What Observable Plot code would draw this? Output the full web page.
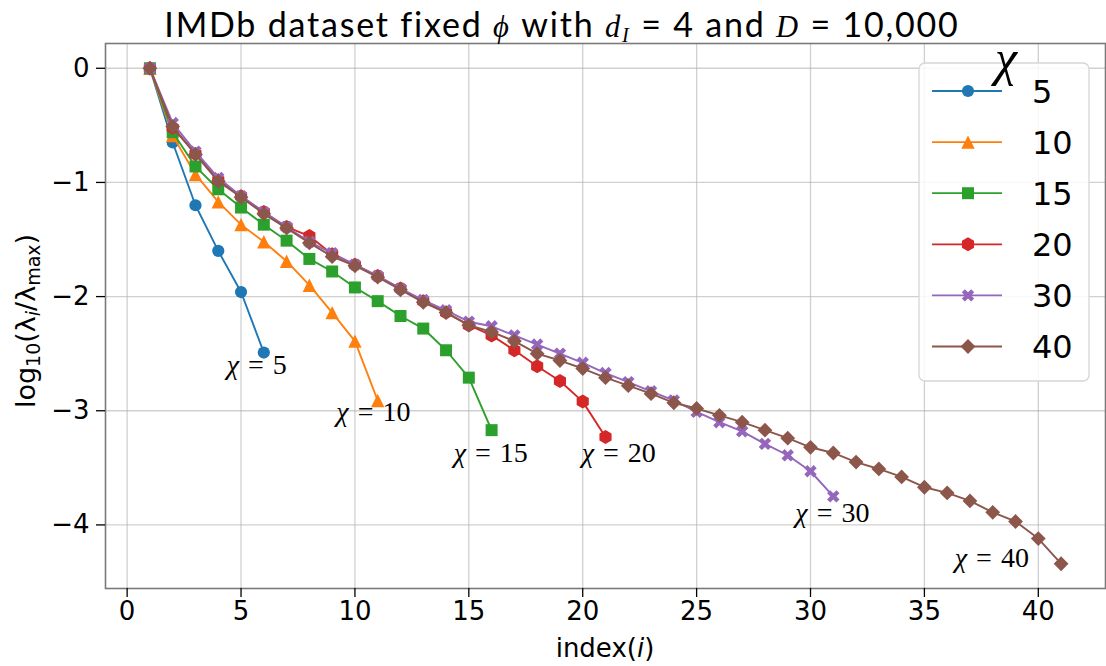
<!DOCTYPE html>
<html><head><meta charset="utf-8">
<script src="https://cdn.jsdelivr.net/npm/d3@7"></script>
<script src="https://cdn.jsdelivr.net/npm/@observablehq/plot@0.6"></script>
<style>body{margin:0;background:#fff;} #chart{width:1106px;height:666px;position:relative;}</style>
</head><body><div id="chart"></div>
<script>
// ---- data ----
const chis = [5, 10, 15, 20, 30, 40];
const colors = ["#1f77b4", "#ff7f0e", "#2ca02c", "#d62728", "#9467bd", "#8c564b"];
const y5 = [0, -0.65, -1.20, -1.60, -1.96, -2.49];
const y10 = [0, -0.59, -0.93, -1.17, -1.37, -1.52, -1.69, -1.90, -2.14, -2.39, -2.91];
const y15 = [0, -0.56, -0.86, -1.06, -1.22, -1.37, -1.51, -1.67, -1.78, -1.92, -2.04, -2.17, -2.28, -2.47, -2.71, -3.17];
const y20 = [0, -0.52, -0.75, -0.98, -1.12, -1.26, -1.39, -1.47, -1.63, -1.72, -1.82, -1.93, -2.04, -2.14, -2.25, -2.34, -2.47, -2.61, -2.74, -2.92, -3.23];
const y30 = [0, -0.48, -0.73, -0.96, -1.12, -1.26, -1.39, -1.52, -1.62, -1.72, -1.82, -1.93, -2.03, -2.12, -2.22, -2.26, -2.34, -2.42, -2.50, -2.58, -2.67, -2.75, -2.83, -2.91, -3.01, -3.10, -3.18, -3.29, -3.39, -3.53, -3.75];
const y40 = [0, -0.51, -0.755, -0.99, -1.13, -1.275, -1.40, -1.53, -1.65, -1.73, -1.83, -1.94, -2.05, -2.14, -2.25, -2.31, -2.39, -2.50, -2.56, -2.63, -2.71, -2.78, -2.85, -2.93, -2.98, -3.04, -3.10, -3.17, -3.24, -3.32, -3.37, -3.45, -3.51, -3.58, -3.67, -3.72, -3.79, -3.89, -3.97, -4.12, -4.34];
const xTicks = [0, 5, 10, 15, 20, 25, 30, 35, 40];
const yTicks = [0, -1, -2, -3, -4];
const annotChi = [5, 10, 15, 20, 30, 40];
const annotX = [5.69, 10.81, 15.96, 21.58, 30.96, 37.96];
const annotY = [-2.60, -3.01, -3.37, -3.37, -3.90, -4.29];

// ---- marker symbols (matplotlib-like) ----
const rOf = s => Math.sqrt(s / Math.PI);
const poly = (ctx, pts) => { pts.forEach(([a, b], k) => k ? ctx.lineTo(a, b) : ctx.moveTo(a, b)); ctx.closePath(); };
const symCircle = {draw(ctx, s) { const r = rOf(s); ctx.moveTo(r, 0); ctx.arc(0, 0, r, 0, 2 * Math.PI); ctx.closePath(); }};
const symTriangle = {draw(ctx, s) { const r = rOf(s); poly(ctx, [[0, -r], [r, r], [-r, r]]); }};
const symSquare = {draw(ctx, s) { const r = rOf(s); poly(ctx, [[-r, -r], [r, -r], [r, r], [-r, r]]); }};
const symHex = {draw(ctx, s) { const r = rOf(s); const p = []; for (let k = 0; k < 6; k++) { const a = -Math.PI / 2 + k * Math.PI / 3; p.push([r * Math.cos(a), r * Math.sin(a)]); } poly(ctx, p); }};
const symX = {draw(ctx, s) { const r = rOf(s), w = r / 3; const p = [[-w,-r],[w,-r],[w,-w],[r,-w],[r,w],[w,w],[w,r],[-w,r],[-w,w],[-r,w],[-r,-w],[-w,-w]].map(([a, b]) => [(a - b) / Math.SQRT2, (a + b) / Math.SQRT2]); poly(ctx, p); }};
const symDiamond = {draw(ctx, s) { const r = rOf(s); poly(ctx, [[0, -r], [r, 0], [0, r], [-r, 0]]); }};
const symbols = [symCircle, symTriangle, symSquare, symHex, symX, symDiamond];
const radii = [6.1, 6.7, 6.0, 7.0, 6.6, 7.4];

const seriesY = [y5, y10, y15, y20, y30, y40];
const series = chis.map((c, i) => ({
  chi: c, color: colors[i], symbol: symbols[i], r: radii[i],
  pts: seriesY[i].map((v, j) => ({x: j + 1, y: v}))
}));
const annots = annotChi.map((c, i) => ({label: "χ = " + c, x: annotX[i], y: annotY[i]}));

const fmt = d3.format("d");
const marks = [
  Plot.gridX(xTicks, {stroke: "#b0b0b0", strokeOpacity: 0.6, strokeWidth: 1.3}),
  Plot.gridY(yTicks, {stroke: "#b0b0b0", strokeOpacity: 0.6, strokeWidth: 1.3})
];
for (const s of series) {
  marks.push(Plot.line(s.pts, {x: "x", y: "y", stroke: s.color, strokeWidth: 1.9}));
  marks.push(Plot.dot(s.pts, {x: "x", y: "y", fill: s.color, stroke: "none", symbol: s.symbol, r: s.r}));
}
marks.push(
  Plot.frame({stroke: "#7a7a7a", strokeWidth: 1.6}),
  Plot.text(annots, {x: "x", y: "y", text: "label", fontFamily: "Liberation Serif", fontSize: 28, textAnchor: "middle", fill: "black"}),
  Plot.axisX(xTicks, {tickSize: 9, tickPadding: 4, fontSize: 26, label: null, tickFormat: fmt, strokeWidth: 1.3}),
  Plot.axisY(yTicks, {tickSize: 9, tickPadding: 7, fontSize: 26, label: null, tickFormat: fmt, strokeWidth: 1.3})
);

const svg = Plot.plot({
  width: 1106, height: 666,
  marginLeft: 105, marginRight: 1, marginTop: 43, marginBottom: 78,
  style: {fontFamily: "DejaVu Sans", background: "white", color: "black"},
  x: {domain: [-0.95, 42.95]},
  y: {domain: [-4.557, 0.217]},
  marks
});
document.getElementById("chart").appendChild(svg);
const S = d3.select(svg);

// annotation: italic chi
S.selectAll("text").each(function() {
  const t = this.textContent;
  if (t.startsWith("χ = ")) {
    const el = d3.select(this); el.text(null);
    el.append("tspan").attr("font-style", "italic").text("χ");
    el.append("tspan").attr("dx", 9).text("=");
    el.append("tspan").attr("dx", 9).text(t.slice(4));
  }
});

// title
const title = S.append("text").attr("x", 562).attr("y", 37).attr("text-anchor", "middle")
  .attr("font-family", "Lato").attr("font-size", 34).attr("letter-spacing", 1.8).attr("fill", "black");
const tp = (txt, o = {}) => { const e = title.append("tspan").text(txt); for (const k in o) e.attr(k, o[k]); return e; };
const mathFont = {"font-family": "Liberation Serif", "font-style": "italic", "font-size": "0.9em"};
tp("IMDb dataset fixed ");
tp("ϕ", mathFont);
tp(" with ");
tp("d", mathFont);
tp("I", {"font-family": "Liberation Serif", "font-style": "italic", "font-size": "0.6em", "dy": 5});
tp(" = 4 and ", {"dy": -5});
tp("D", mathFont);
tp(" = 10,000");

// x label
const xl = S.append("text").attr("x", 605).attr("y", 657).attr("text-anchor", "middle")
  .attr("font-family", "DejaVu Sans").attr("font-size", 26).attr("fill", "black");
xl.append("tspan").text("index(");
xl.append("tspan").attr("font-style", "italic").text("i");
xl.append("tspan").text(")");

// y label
const yl = S.append("text").attr("transform", "translate(35,321) rotate(-90)").attr("text-anchor", "middle")
  .attr("font-family", "DejaVu Sans").attr("font-size", 27).attr("fill", "black");
yl.append("tspan").text("log");
yl.append("tspan").attr("font-size", 19).attr("dy", 5).text("10");
yl.append("tspan").attr("dy", -5).text("(λ");
yl.append("tspan").attr("font-size", 19).attr("font-style", "italic").attr("dy", 5).text("i");
yl.append("tspan").attr("dy", -5).text("/λ");
yl.append("tspan").attr("font-size", 19).attr("dy", 5).text("max");
yl.append("tspan").attr("dy", -5).text(")");

// legend
const lg = S.append("g");
lg.append("rect").attr("x", 919).attr("y", 63).attr("width", 170).attr("height", 318).attr("rx", 6)
  .attr("fill", "white").attr("fill-opacity", 0.85).attr("stroke", "#d6d6d6").attr("stroke-width", 1.3);
lg.append("text").attr("x", 1006).attr("y", 75).attr("text-anchor", "middle")
  .attr("font-family", "Liberation Serif").attr("font-style", "italic").attr("font-size", 50).attr("fill", "black").text("χ");
const row0 = 91, rowStep = 51.1;
series.forEach((s, i) => {
  const yy = row0 + i * rowStep;
  lg.append("line").attr("x1", 932).attr("x2", 1002).attr("y1", yy).attr("y2", yy).attr("stroke", s.color).attr("stroke-width", 1.8);
  lg.append("path").attr("d", d3.symbol(s.symbol, Math.PI * s.r * s.r)()).attr("transform", `translate(968,${yy})`).attr("fill", s.color);
  lg.append("text").attr("x", 1032).attr("y", yy).attr("dy", "0.36em").attr("text-anchor", "start")
    .attr("font-family", "DejaVu Sans").attr("font-size", 32).attr("fill", "black").text(String(s.chi));
});
</script>
</body></html>
